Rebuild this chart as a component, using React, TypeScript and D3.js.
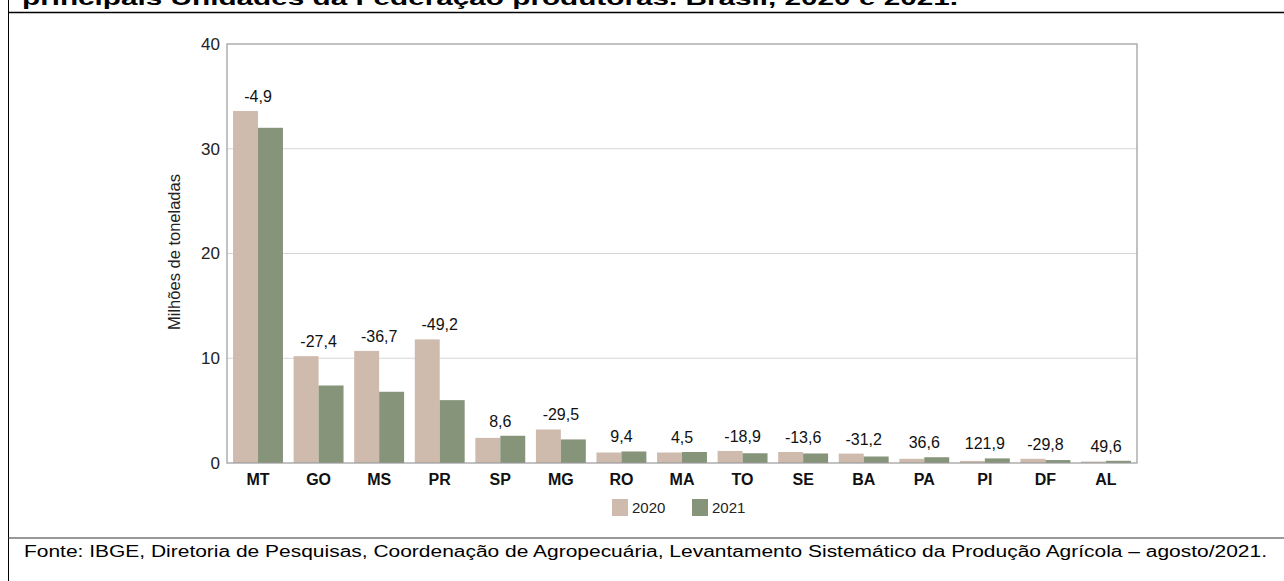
import React from "react";
import * as d3 from "d3";

const states = ["MT", "GO", "MS", "PR", "SP", "MG", "RO", "MA", "TO", "SE", "BA", "PA", "PI", "DF", "AL"];
const values2020 = [33.6, 10.2, 10.7, 11.8, 2.4, 3.2, 1.0, 1.0, 1.15, 1.05, 0.9, 0.4, 0.2, 0.4, 0.14];
const values2021 = [32.0, 7.4, 6.8, 6.0, 2.6, 2.25, 1.1, 1.05, 0.93, 0.91, 0.62, 0.55, 0.44, 0.28, 0.21];
const changes = ["-4,9", "-27,4", "-36,7", "-49,2", "8,6", "-29,5", "9,4", "4,5", "-18,9", "-13,6", "-31,2", "36,6", "121,9", "-29,8", "49,6"];
const yTicks = [0, 10, 20, 30, 40];
const years = ["2020", "2021"];

const colors = { "2020": "#cfbbad", "2021": "#86957a" };

const App = () => {
  const width = 1284,
    height = 581;
  const left = 227,
    right = 1137,
    top = 44,
    bottom = 463;

  const x = d3.scaleBand().domain(states).range([left, right]).paddingInner(0.176).paddingOuter(0.1);
  const xs = d3.scaleBand().domain(years).range([0, x.bandwidth()]);
  const y = d3.scaleLinear().domain([0, 40]).range([bottom, top]);

  const font = "'Liberation Sans', Arial, sans-serif";

  return (
    <svg width={width} height={height} style={{ position: "absolute", left: 0, top: 0, background: "#fff" }}>
      {/* title, cut off at the top as in the source */}
      <text x={22} y={4.5} fontFamily={font} fontWeight="bold" fontSize={20} textLength={936} lengthAdjust="spacingAndGlyphs" fill="#000">
        principais Unidades da Federação produtoras. Brasil, 2020 e 2021.
      </text>
      <line x1={8} x2={width} y1={12.5} y2={12.5} stroke="#000" strokeWidth={1.5} />
      <line x1={8.5} x2={8.5} y1={0} y2={height} stroke="#000" strokeWidth={1} />
      <line x1={8} x2={width} y1={538} y2={538} stroke="#333" strokeWidth={1} />

      {/* grid + y ticks */}
      {yTicks.map((t) => (
        <g key={t}>
          {t > 0 && t < 40 && <line x1={left} x2={right} y1={y(t)} y2={y(t)} stroke="#d6d6d6" strokeWidth={1} />}
          <text x={220} y={y(t)} dy="0.35em" textAnchor="end" fontFamily={font} fontSize={17} fill="#222">
            {t}
          </text>
        </g>
      ))}

      {/* bars */}
      {states.map((s, i) => {
        const x0 = x(s) as number;
        const v = [values2020[i], values2021[i]];
        return (
          <g key={s}>
            {years.map((yr, j) => (
              <rect key={yr} x={x0 + (xs(yr) as number)} y={y(v[j])} width={xs.bandwidth()} height={bottom - y(v[j])} fill={colors[yr]} />
            ))}
            <text x={x0 + x.bandwidth() / 2} y={y(Math.max(v[0], v[1])) - 9} textAnchor="middle" fontFamily={font} fontSize={16} fill="#111">
              {changes[i]}
            </text>
            <text x={x0 + x.bandwidth() / 2} y={485} textAnchor="middle" fontFamily={font} fontWeight="bold" fontSize={16} fill="#111">
              {s}
            </text>
          </g>
        );
      })}

      {/* frame */}
      <rect x={left} y={top} width={right - left} height={bottom - top} fill="none" stroke="#9a9a9a" strokeWidth={1.2} />

      {/* y label */}
      <text transform={`translate(180,252) rotate(-90)`} textAnchor="middle" fontFamily={font} fontSize={16.5} fill="#222">
        Milhões de toneladas
      </text>

      {/* legend */}
      {years.map((yr, j) => (
        <g key={yr} transform={`translate(${612 + j * 80},499)`}>
          <rect width={16} height={17} fill={colors[yr]} />
          <text x={20} y={14} fontFamily={font} fontSize={15} fill="#222">
            {yr}
          </text>
        </g>
      ))}

      {/* source */}
      <text x={24} y={557} fontFamily={font} fontSize={16} textLength={1243} lengthAdjust="spacingAndGlyphs" fill="#000">
        Fonte: IBGE, Diretoria de Pesquisas, Coordenação de Agropecuária, Levantamento Sistemático da Produção Agrícola – agosto/2021.
      </text>
    </svg>
  );
};

export default App;
